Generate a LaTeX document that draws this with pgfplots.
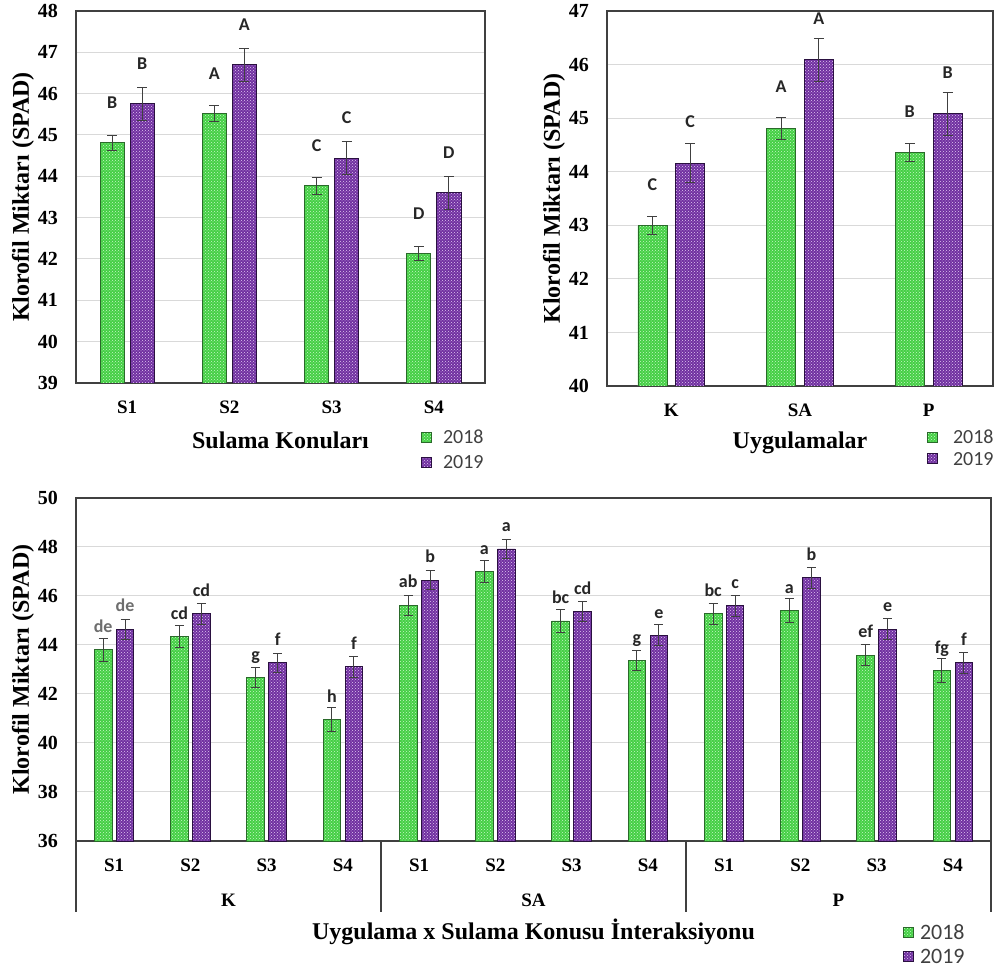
\documentclass[border=0pt]{standalone}
\usepackage{fontspec}
\setmainfont{Liberation Serif}
\newfontfamily\calib{Carlito}
\usepackage{pgfplots}
\pgfplotsset{compat=1.18}
\usepackage{pgfplotstable}
\usetikzlibrary{patterns}
\definecolor{gbar}{HTML}{45CF45}
\definecolor{gdot}{HTML}{C8F7C8}
\definecolor{gedge}{HTML}{2A6A2A}
\definecolor{pbar}{HTML}{7030A0}
\definecolor{pdot}{HTML}{E2C9F2}
\definecolor{pedge}{HTML}{2A1040}
\definecolor{axgray}{HTML}{404040}
\definecolor{gridgray}{HTML}{D9D9D9}
\definecolor{labdark}{HTML}{262626}
\definecolor{labgray}{HTML}{6E6E6E}
\definecolor{errc}{HTML}{404040}
\definecolor{legtext}{HTML}{404040}
\newcommand{\fs}[1]{\fontsize{#1}{#1}\selectfont}

\pgfplotstableread{
x y e l
0 44.81 0.18 B
1 45.52 0.20 A
2 43.77 0.20 C
3 42.13 0.17 D
}\tlA
\pgfplotstableread{
x y e l
0 45.76 0.40 B
1 46.70 0.40 A
2 44.44 0.40 C
3 43.60 0.40 D
}\tlB
\pgfplotstableread{
x y e l
0 42.99 0.17 C
1 44.81 0.20 A
2 44.36 0.17 B
}\trA
\pgfplotstableread{
x y e l
0 44.16 0.37 C
1 46.09 0.40 A
2 45.08 0.40 B
}\trB
\pgfplotstableread{
x y e l
0 43.80 0.47 \color{labgray}de
1 44.34 0.45 cd
2 42.67 0.42 g
3 40.95 0.48 h
4 45.62 0.42 ab
5 46.99 0.44 a
6 44.98 0.47 bc
7 43.36 0.41 g
8 45.27 0.43 bc
9 45.41 0.49 a
10 43.59 0.43 ef
11 42.96 0.48 fg
}\bA
\pgfplotstableread{
x y e l
0 44.64 0.42 \color{labgray}de
1 45.27 0.43 cd
2 43.27 0.40 f
3 43.11 0.44 f
4 46.65 0.38 b
5 47.92 0.39 a
6 45.37 0.42 cd
7 44.39 0.43 e
8 45.60 0.44 c
9 46.74 0.42 b
10 44.64 0.43 e
11 43.27 0.42 f
}\bB

\pgfplotsset{
  base/.style={
    scale only axis, ybar, enlargelimits=false,
    axis line style={draw=axgray, line width=1.5pt},
    ymajorgrids, major grid style={draw=gridgray, line width=1pt},
    major tick length=0pt, tick style={draw=none},
    /pgf/number format/assume math mode=true,
    yticklabel style={font=\bfseries\fs{20}, anchor=east, inner sep=0pt, xshift=-18pt},
    xticklabel style={font=\bfseries\fs{19}, anchor=center, inner sep=0pt, yshift=-24pt},
    every axis x label/.style={at={([yshift=-57pt]axis description cs:0.5,0)}, anchor=center, font=\bfseries\fs{24}},
    every axis y label/.style={at={([xshift=-53pt]axis description cs:0,0.5)}, anchor=center, rotate=90, font=\bfseries\fs{24}},
    clip mode=individual,
    point meta=explicit symbolic,
    nodes near coords,
    every node near coord/.append style={font=\calib\bfseries\fs{18}, text=labdark, inner sep=0pt, text depth=0pt},
    error bars/y dir=both, error bars/y explicit,
    error bars/error bar style={draw=errc, line width=1pt},
    error bars/error mark options={rotate=90, mark size=5pt, draw=errc, line width=1pt},
    legend style={draw=none, fill=none, font=\calib\fs{20}, text=legtext, inner sep=0pt, anchor=north west,
      nodes={inner sep=0pt, text height=13pt, text depth=0pt}},
    legend cell align=left,
  },
  s18/.style={fill=gbar, draw=gedge, line width=0.8pt, postaction={pattern=crosshatch dots, pattern color=gdot},
    legend image code/.code={\draw[##1] (0pt,-5pt) rectangle (10pt,5pt);}},
  s19/.style={fill=pbar, draw=pedge, line width=0.8pt, postaction={pattern=crosshatch dots, pattern color=pdot},
    legend image code/.code={\draw[##1] (0pt,-5pt) rectangle (10pt,5pt);}},
}

\begin{document}
\begin{tikzpicture}
\path[use as bounding box] (0,0) rectangle (1001pt,969pt);

\begin{axis}[base, at={(76pt,586pt)}, anchor=south west, width=409pt, height=372pt,
  xmin=-0.5, xmax=3.5, ymin=39, ymax=48, ytick={39,...,48}, xtick={0,1,2,3}, xticklabels={S1,S2,S3,S4},
  xlabel={Sulama Konuları}, ylabel={Klorofil Miktarı (SPAD)},
  every node near coord/.append style={yshift=34pt},
  legend style={at={(axis description cs:0,0)}, xshift=345pt, yshift=-47.5pt, row sep=12pt, column sep=11pt}]
\addplot[s18, bar width=0.235, bar shift=-0.147] table[x=x,y=y,y error=e,meta=l]{\tlA};
\addplot[s19, bar width=0.235, bar shift=0.147] table[x=x,y=y,y error=e,meta=l]{\tlB};
\legend{2018,2019}
\end{axis}

\begin{axis}[base, at={(607pt,583pt)}, anchor=south west, width=386pt, height=375pt,
  xmin=-0.5, xmax=2.5, ymin=40, ymax=47, ytick={40,...,47}, xtick={0,1,2}, xticklabels={K,SA,P},
  xlabel={Uygulamalar}, ylabel={Klorofil Miktarı (SPAD)},
  every node near coord/.append style={yshift=35pt},
  legend style={at={(axis description cs:0,0)}, xshift=320pt, yshift=-44.5pt, row sep=8.6pt, column sep=15pt}]
\addplot[s18, bar width=0.225, bar shift=-0.147] table[x=x,y=y,y error=e,meta=l]{\trA};
\addplot[s19, bar width=0.225, bar shift=0.147] table[x=x,y=y,y error=e,meta=l]{\trB};
\legend{2018,2019}
\end{axis}

\begin{axis}[base, at={(76pt,128pt)}, anchor=south west, width=915pt, height=343pt,
  xmin=-0.5, xmax=11.5, ymin=36, ymax=50, ytick={36,38,...,50}, xtick={0,...,11},
  xticklabels={S1,S2,S3,S4,S1,S2,S3,S4,S1,S2,S3,S4},
  every axis x label/.style={at={([yshift=-91pt]axis description cs:0.5,0)}, anchor=center, font=\bfseries\fs{24}},
  xlabel={Uygulama x Sulama Konusu İnteraksiyonu}, ylabel={Klorofil Miktarı (SPAD)},
  every node near coord/.append style={yshift=17pt},
  error bars/error mark options={rotate=90, mark size=4.5pt, draw=errc, line width=1pt},
  legend style={at={(axis description cs:0,0)}, xshift=827pt, yshift=-84pt, row sep=10pt, column sep=6pt, font=\calib\fs{22},
    nodes={inner sep=0pt, text height=14pt, text depth=0pt}}]
\addplot[s18, bar width=0.23, bar shift=-0.144] table[x=x,y=y,y error=e,meta=l]{\bA};
\addplot[s19, bar width=0.23, bar shift=0.144] table[x=x,y=y,y error=e,meta=l]{\bB};
\legend{2018,2019}
\draw[axgray, line width=1.5pt] (axis cs:-0.5,36) -- ([yshift=-71pt]axis cs:-0.5,36);
\draw[axgray, line width=1.5pt] (axis cs:3.5,36) -- ([yshift=-71pt]axis cs:3.5,36);
\draw[axgray, line width=1.5pt] (axis cs:7.5,36) -- ([yshift=-71pt]axis cs:7.5,36);
\draw[axgray, line width=1.5pt] (axis cs:11.5,36) -- ([yshift=-71pt]axis cs:11.5,36);
\node[font=\bfseries\fs{19}, anchor=center] at ([yshift=-59pt]axis cs:1.5,36) {K};
\node[font=\bfseries\fs{19}, anchor=center] at ([yshift=-59pt]axis cs:5.5,36) {SA};
\node[font=\bfseries\fs{19}, anchor=center] at ([yshift=-59pt]axis cs:9.5,36) {P};
\end{axis}
\end{tikzpicture}
\end{document}
